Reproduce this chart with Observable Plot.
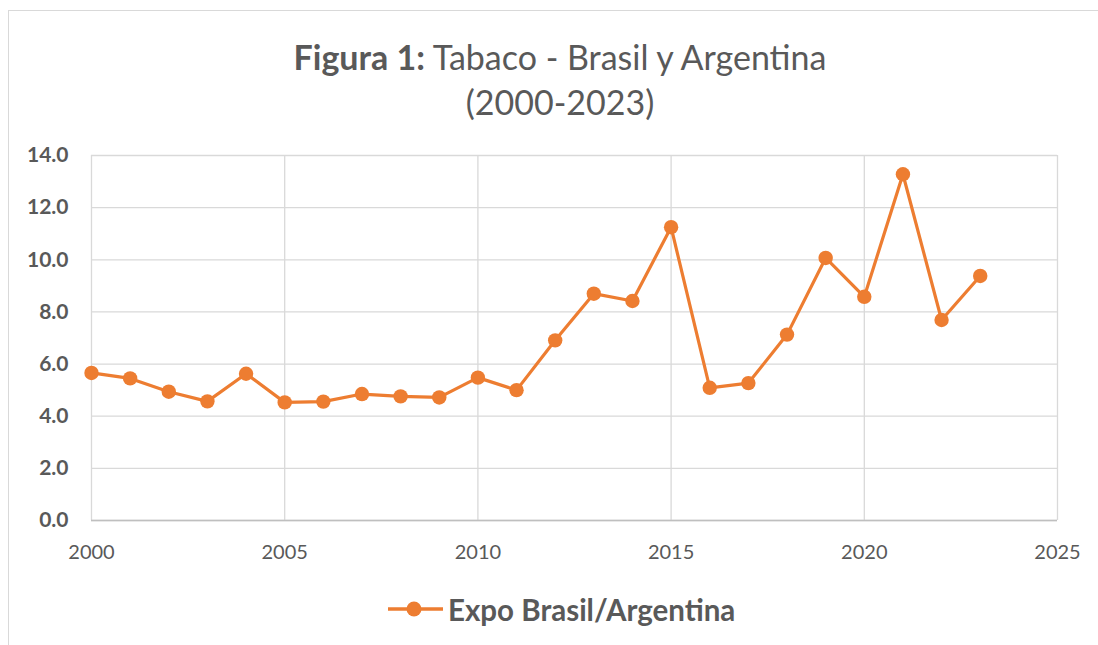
<!DOCTYPE html>
<html><head><meta charset="utf-8">
<script src="https://cdn.jsdelivr.net/npm/d3@7"></script>
<script src="https://cdn.jsdelivr.net/npm/@observablehq/plot@0.6"></script>
<style>
body{margin:0;background:#fff;font-family:Lato,"Open Sans",sans-serif;}
#wrap{position:relative;width:1098px;height:645px;overflow:hidden;background:#fff;}
#frame{position:absolute;left:8px;top:10px;width:1200px;height:700px;border-left:1px solid #d9d9d9;border-top:1px solid #d9d9d9;box-sizing:border-box;}
#title{position:absolute;left:0;width:1120px;top:34px;text-align:center;color:#595959;font-size:34px;line-height:45px;}
#chart{position:absolute;left:0;top:0;}
#legend{position:absolute;left:387px;top:591px;height:36px;display:flex;align-items:center;color:#595959;font-size:29.5px;font-weight:bold;}
#legend svg{margin-right:4px;}
</style></head>
<body><div id="wrap"><div id="frame"></div><div id="chart"></div>
<div id="title"><b>Figura 1:</b> Tabaco - Brasil y Argentina<br>(2000-2023)</div>
<div id="legend"><svg width="57" height="20"><line x1="1" y1="10" x2="56" y2="10" stroke="#ED7D31" stroke-width="3.5"/><circle cx="27" cy="10" r="7.5" fill="#ED7D31"/></svg><span>Expo Brasil/Argentina</span></div>
</div>
<script>
const years = [2000,2001,2002,2003,2004,2005,2006,2007,2008,2009,2010,2011,2012,2013,2014,2015,2016,2017,2018,2019,2020,2021,2022,2023];
const values = [5.66,5.45,4.94,4.57,5.63,4.53,4.56,4.85,4.76,4.72,5.48,5.00,6.91,8.70,8.42,11.25,5.09,5.27,7.13,10.07,8.58,13.28,7.69,9.38];
const xTicks = [2000,2005,2010,2015,2020,2025];
const yTicks = [0,2,4,6,8,10,12,14];
const seriesName = "Expo Brasil/Argentina";
const data = years.map((y,i)=>({year:y,value:values[i]}));
const orange = "#ED7D31";
const chart = Plot.plot({
  width:1098, height:645,
  marginTop:155, marginBottom:125, marginLeft:91, marginRight:41,
  style:{fontFamily:"Lato, 'Open Sans', sans-serif", color:"#595959", background:"transparent", overflow:"visible"},
  x:{domain:[2000,2025]},
  y:{domain:[0,14]},
  marks:[
    Plot.gridX(xTicks,{stroke:"#d9d9d9",strokeOpacity:1,strokeWidth:1.3}),
    Plot.gridY(yTicks,{stroke:"#d9d9d9",strokeOpacity:1,strokeWidth:1.3}),
    Plot.ruleY([0],{stroke:"#bfbfbf",strokeWidth:1.6}),
    Plot.axisY(yTicks,{tickSize:0,tickPadding:23,fontSize:21,fontWeight:"bold",fill:"#595959",tickFormat:d=>d.toFixed(1),label:null}),
    Plot.axisX(xTicks,{tickSize:0,tickPadding:24,fontSize:20,fill:"#595959",tickFormat:d=>String(d),label:null}),
    Plot.line(data,{x:"year",y:"value",stroke:orange,strokeWidth:3.2}),
    Plot.dot(data,{x:"year",y:"value",r:7.2,fill:orange,stroke:"none"})
  ]
});
document.getElementById("chart").appendChild(chart);
</script>
</body></html>
